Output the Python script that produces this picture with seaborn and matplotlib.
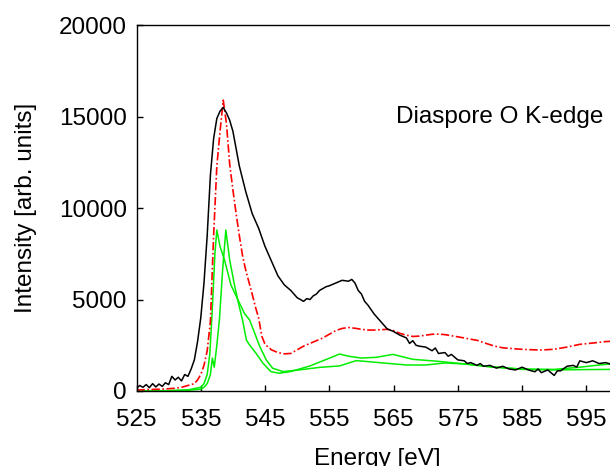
import numpy as np
import pandas as pd
import seaborn as sns
from matplotlib import pyplot as plt

# Experimental spectrum (black)
exp_energy = [525, 525.5, 526, 526.5, 527, 527.5, 528, 528.5, 529, 529.5, 530, 530.5, 531, 531.5,
              532, 532.5, 533, 533.5, 534, 534.5, 535, 535.5, 536, 536.5, 537, 537.5, 538, 538.5,
              539, 539.5, 540, 541, 542, 543, 544, 545, 546, 547, 548, 549, 549.5, 550, 550.5,
              551, 551.5, 552, 552.5, 553, 553.5, 554, 554.5, 555, 556, 557, 558, 558.5, 559,
              559.5, 560, 560.5, 561, 562, 563, 564, 565, 566, 567, 567.5, 568, 568.5, 569, 570,
              571, 571.5, 572, 573, 573.5, 574, 575, 576, 576.5, 577, 578, 578.5, 579, 580, 581,
              582, 583, 584, 585, 586, 587, 587.5, 588, 589, 590, 590.5, 591, 592, 593, 593.5,
              594, 595, 596, 597, 598, 599]
exp_int = [150, 300, 200, 350, 180, 400, 220, 380, 250, 450, 350, 800, 600, 750,
           550, 900, 800, 1200, 1700, 2700, 4000, 5900, 8500, 11800, 13800, 14900, 15300, 15500,
           15200, 14800, 14200, 12300, 10900, 9700, 8900, 7900, 7100, 6300, 5800, 5500, 5300, 5100, 5000,
           4900, 5050, 5000, 5200, 5300, 5500, 5600, 5700, 5750, 5900, 6050, 6000, 6100, 5900,
           5500, 5300, 4900, 4700, 4200, 3800, 3400, 3250, 3050, 2900, 2600, 2750, 2500, 2450, 2400,
           2200, 2350, 2050, 2100, 1900, 2000, 1700, 1650, 1500, 1550, 1400, 1500, 1350, 1400, 1250,
           1350, 1200, 1150, 1300, 1150, 1050, 1200, 1000, 1150, 850, 1100, 1100, 1350, 1400, 1300,
           1650, 1550, 1650, 1500, 1550, 1450]

# Calculated total spectrum (red dash-dot)
calc_energy = [525, 527, 529, 531, 532, 533, 534, 534.5, 535, 535.5, 536, 536.5, 537, 537.5, 538,
               538.5, 539, 539.5, 540, 540.5, 541, 541.5, 542, 543, 543.5, 544, 544.5, 545, 546,
               547, 548, 549, 550, 551, 552, 553, 554, 555, 556, 557, 558, 559, 560, 561, 562,
               563, 564, 565, 566, 567, 568, 569, 570, 571, 572, 573, 574, 575, 576, 577, 578,
               579, 580, 581, 582, 583, 584, 586, 588, 590, 592, 594, 596, 598, 599]
calc_int = [50, 80, 100, 150, 200, 300, 400, 600, 900, 1400, 2200, 3800, 8500, 12300, 14200,
            15900, 14600, 12400, 11000, 9700, 8500, 7400, 6600, 5300, 4600, 4000, 3000, 2550, 2250,
            2100, 2030, 2050, 2250, 2450, 2600, 2750, 2900, 3100, 3300, 3420, 3470, 3430, 3370, 3330, 3330,
            3350, 3370, 3300, 3150, 3050, 2980, 3000, 3050, 3100, 3110, 3080, 3020, 2960, 2900, 2830, 2770,
            2650, 2530, 2430, 2360, 2330, 2300, 2260, 2240, 2280, 2400, 2550, 2620, 2700, 2720]

# Site-resolved components (green)
site1_energy = [525, 530, 533, 535, 535.5, 536, 536.4, 536.8, 537.2, 537.5, 538, 538.7, 539.7,
                540.8, 541.8, 542.6, 543.4, 544.2, 545.2, 546.2, 547.8, 550.3, 553.5, 556.6,
                559.2, 562.8, 567, 570, 573, 576, 580, 585, 590, 594, 597, 599]
site1_int = [0, 20, 60, 200, 400, 900, 2000, 4500, 7500, 8800, 7900, 7160, 5790,
             4970, 4240, 3880, 3150, 2420, 1690, 1240, 1060, 1150, 1290, 1370,
             1660, 1550, 1420, 1420, 1530, 1480, 1330, 1200, 1180, 1300, 1420, 1480]

site2_energy = [525, 530, 533, 535, 535.5, 536, 536.5, 536.8, 537.1, 537.5, 537.9, 538.4, 538.9,
                539.5, 540.3, 541, 541.5, 542.1, 542.6, 543.6, 544.7, 545.9, 547.2, 549, 552,
                555, 556.6, 558, 560, 562.3, 564.9, 568, 572, 576, 580, 585, 590, 595, 599]
site2_int = [0, 10, 40, 100, 200, 400, 900, 1800, 1300, 2500, 3900, 6600, 8800,
             7160, 5700, 4600, 3880, 2790, 2510, 2060, 1510, 1060, 970, 1060, 1370,
             1790, 2020, 1900, 1800, 1840, 2000, 1730, 1620, 1480, 1320, 1180, 1150, 1170, 1180]

x_ticks = [525, 535, 545, 555, 565, 575, 585, 595]
y_ticks = [0, 5000, 10000, 15000, 20000]

sns.set_theme(style="ticks")
plt.rcParams['font.family'] = ['Liberation Sans', 'DejaVu Sans']
plt.rcParams['text.color'] = 'black'
plt.rcParams['axes.labelcolor'] = 'black'

fig = plt.figure(figsize=(6.1, 4.66), dpi=100)
ax = fig.add_axes([0.2238, 0.161, 0.790, 0.785])

sns.lineplot(x=site1_energy, y=site1_int, color='#00ee00', lw=1.1, sort=False, ax=ax)
sns.lineplot(x=site2_energy, y=site2_int, color='#00ee00', lw=1.1, sort=False, ax=ax)
sns.lineplot(x=calc_energy, y=calc_int, color='red', lw=1.2, linestyle=(0, (5, 1.5, 1, 1.5)),
             sort=False, ax=ax)
sns.lineplot(x=exp_energy, y=exp_int, color='black', lw=1.1, sort=False, ax=ax)

ax.set_xlim(525, 600)
ax.set_ylim(0, 20000)
ax.set_xticks(x_ticks)
ax.set_yticks(y_ticks)
ax.tick_params(direction='in', length=4, width=1, labelsize=17.5, colors='black',
               labelcolor='black')
ax.tick_params(axis='x', pad=13)
ax.tick_params(axis='y', pad=7)
for s in ['left', 'bottom', 'top']:
    ax.spines[s].set_color('black')
    ax.spines[s].set_linewidth(1)
ax.spines['right'].set_visible(False)

ax.set_xlabel('Energy [eV]', fontsize=17.5, labelpad=12, color='black')
ax.set_ylabel('Intensity [arb. units]', fontsize=17.5, labelpad=16, color='black')
ax.text(597.6, 15000, 'Diaspore O K-edge', ha='right', va='center', fontsize=17.5,
        color='black')

fig.savefig('out.png', dpi=100)
